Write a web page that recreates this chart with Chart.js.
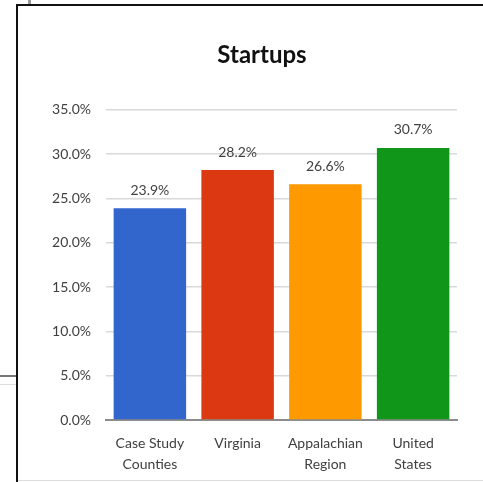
<!DOCTYPE html>
<html>
<head>
<meta charset="utf-8">
<script src="https://cdn.jsdelivr.net/npm/chart.js@4.4.0/dist/chart.umd.min.js"></script>
<style>
  html, body { margin: 0; padding: 0; background: #fff; }
  body { width: 483px; height: 482px; position: relative; overflow: hidden; }
  #frame { position: absolute; left: 16px; top: 4px; width: 480px; height: 490px;
           border-left: 2px solid #111; border-top: 2px solid #111; }
  #wrap { position: absolute; left: 18px; top: 6px; width: 488px; height: 474px; }
  .mark { position: absolute; }
</style>
</head>
<body>
<div class="mark" style="left:28px;top:0;width:3px;height:4px;background:#999;"></div>
<div class="mark" style="left:0;top:375px;width:16px;height:2px;background:#777;"></div>
<div class="mark" style="left:0;top:384px;width:16px;height:1px;background:#ddd;"></div>
<div class="mark" style="left:18px;top:480px;width:465px;height:1px;background:#ddd;"></div>
<div id="frame"></div>
<div id="wrap"><canvas id="startupChart"></canvas></div>
<script>
// chart values
var regionLabels = [["Case Study", "Counties"], "Virginia", ["Appalachian", "Region"], ["United", "States"]];
var startupPct = [23.9, 28.2, 26.6, 30.7];
var barColors = ["#3366cc", "#dc3912", "#ff9900", "#109618"];
var yTickMax = 35;
var yTickStep = 5;

var fontFamily = "Lato, 'Open Sans', sans-serif";

// value labels above each bar
var valueLabels = {
    id: 'valueLabels',
    afterDatasetsDraw: function(chart){
        var ctx = chart.ctx;
        var meta = chart.getDatasetMeta(0);
        ctx.save();
        ctx.font = "14px " + fontFamily;
        ctx.fillStyle = "#404040";
        ctx.textAlign = "center";
        ctx.textBaseline = "middle";
        for (var i = 0; i < meta.data.length; i++) {
            var bar = meta.data[i];
            ctx.fillText(startupPct[i].toFixed(1) + "%", bar.x, bar.y - 18);
        }
        ctx.restore();
    }
};

var ctx = document.getElementById('startupChart').getContext('2d');

var startupChart = new Chart(ctx, {
    type: 'bar',
    data: {
        labels: regionLabels,
        datasets: [{
            label: 'Startups',
            data: startupPct,
            backgroundColor: barColors,
            borderWidth: 0,
            barPercentage: 0.826,
            categoryPercentage: 1.0
        }]
    },
    options: {
        responsive: true,
        maintainAspectRatio: false,
        animation: false,
        layout: { padding: 0 },
        plugins: {
            legend: { display: false },
            tooltip: { enabled: false },
            title: {
                display: true,
                text: 'Startups',
                color: '#111',
                font: { family: fontFamily, size: 24, weight: 'bold', lineHeight: 1.2 },
                padding: { top: 35, bottom: 40 }
            }
        },
        scales: {
            x: {
                grid: { display: false, drawTicks: false },
                border: { display: true, color: '#8c8c8c', width: 2 },
                ticks: {
                    color: '#404040',
                    padding: 12,
                    font: { family: fontFamily, size: 14, lineHeight: 1.57 }
                },
                afterFit: function(scale){ scale.height = 60; }
            },
            y: {
                min: 0,
                max: yTickMax,
                grid: { color: '#d9d9d9', lineWidth: 1.5, drawTicks: false },
                border: { display: false },
                ticks: {
                    stepSize: yTickStep,
                    color: '#404040',
                    padding: 15,
                    font: { family: fontFamily, size: 14 },
                    callback: function(v){ return v.toFixed(1) + '%'; }
                },
                afterFit: function(scale){ scale.width = 88; }
            },
            // empty right-hand space so the title centres like the original
            yRight: {
                position: 'right',
                min: 0,
                max: yTickMax,
                grid: { display: false, drawTicks: false },
                border: { display: false },
                ticks: { display: false },
                afterFit: function(scale){ scale.width = 49; }
            }
        }
    },
    plugins: [valueLabels]
});
</script>
</body>
</html>
